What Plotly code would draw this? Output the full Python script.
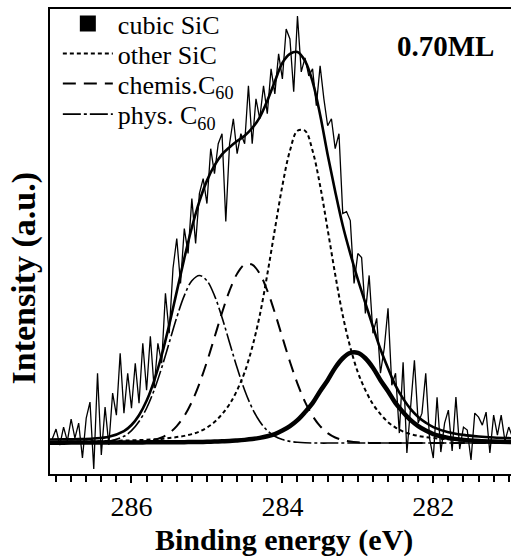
import plotly.graph_objects as go

# ---------------- data ----------------
# energy grid of the fitted components (eV)
fit_energy = [287.1, 286.9, 286.7, 286.5, 286.3, 286.1,
              286.0, 285.9, 285.8, 285.7, 285.6, 285.5, 285.4, 285.3, 285.2, 285.1,
              285.0, 284.9, 284.8, 284.7, 284.6, 284.5, 284.4, 284.3, 284.2, 284.1,
              284.0, 283.9, 283.8, 283.7, 283.6, 283.5, 283.4, 283.3, 283.2, 283.1,
              283.0, 282.9, 282.8, 282.7, 282.6, 282.5, 282.4, 282.3, 282.2, 282.1,
              282.0, 281.8, 281.6, 281.4, 281.2, 280.9]

phys_c60 = [0, 0, 0, 0.3, 1.7, 6.8,
            12.5, 21.6, 34.9, 53.0, 75.4, 100.6, 125.9, 147.8, 162.7, 168.0,
            162.7, 147.8, 125.9, 100.6, 75.4, 53.0, 34.9, 21.6, 12.5, 6.8,
            3.5, 1.7, 0.8, 0.3, 0.1, 0, 0, 0, 0, 0,
            0, 0, 0, 0, 0, 0, 0, 0, 0, 0,
            0, 0, 0, 0, 0, 0]

chemis_c60 = [0, 0, 0, 0, 0, 0.1,
              0.3, 0.7, 1.5, 3.0, 5.6, 10.0, 17.0, 27.2, 41.3, 59.6,
              81.5, 105.9, 130.6, 152.8, 169.7, 178.8, 178.8, 169.7, 152.8, 130.6,
              105.9, 81.5, 59.6, 41.3, 27.2, 17.0, 10.0, 5.6, 3.0, 1.5,
              0.7, 0.3, 0.1, 0, 0, 0, 0, 0, 0, 0,
              0, 0, 0, 0, 0, 0]

other_sic = [1.1, 1.3, 1.5, 1.8, 2.1, 2.5,
             2.7, 3.0, 3.3, 3.7, 4.2, 5.0, 6.0, 7.2, 9.0, 11.5,
             15.5, 21, 29, 39, 53, 71, 96, 128, 169, 214,
             258, 293, 313, 313, 293, 258, 214, 169, 128, 96,
             71, 53, 39, 29, 21, 15.5, 11.5, 9.0, 7.2, 6.0,
             5.0, 3.7, 3.0, 2.5, 2.1, 1.7]

cubic_sic = [0.4, 0.4, 0.5, 0.5, 0.5, 0.6,
             0.6, 0.6, 0.7, 0.7, 0.8, 0.8, 0.9, 0.9, 1.0, 1.1,
             1.3, 1.5, 1.8, 2.1, 2.6, 3.2, 4.0, 5.2, 6.8, 9.0,
             12.5, 17, 23, 31, 40, 52, 63, 75.5, 85, 90.3,
             90.3, 85, 75.5, 63, 52, 40, 31, 23, 17, 12.5,
             9.0, 5.2, 3.2, 2.1, 1.5, 1.0]

envelope = [3.5, 3.7, 4.0, 4.6, 6.3, 12.0,
            18.1, 27.9, 42.4, 62.4, 88.0, 118.4, 151.8, 185.1, 216.0, 242.2,
            263.0, 278.2, 289.3, 296.5, 302.7, 308.0, 315.7, 326.5, 343.1, 362.4,
            381.0, 390, 392, 383, 362.3, 329, 289, 252.1, 218, 189.8,
            164, 140.3, 116.6, 94, 75, 57.5, 44.5, 34, 26.2, 20.5,
            16, 10.9, 8.2, 6.6, 5.6, 4.7]

# measured spectrum
raw_energy = [287.05, 287.00, 286.95, 286.90, 286.85, 286.80, 286.75, 286.70, 286.65, 286.60,
              286.55, 286.50, 286.45, 286.40, 286.35, 286.30, 286.25, 286.20, 286.15, 286.10,
              286.05, 286.00, 285.95, 285.90, 285.85, 285.80, 285.75, 285.70, 285.65, 285.60,
              285.55, 285.50, 285.45, 285.40, 285.35, 285.30, 285.25, 285.20, 285.15, 285.10,
              285.05, 285.00, 284.95, 284.90, 284.85, 284.80, 284.75, 284.70, 284.65, 284.60,
              284.55, 284.50, 284.45, 284.40, 284.35, 284.30, 284.25, 284.20, 284.15, 284.10,
              284.05, 284.00, 283.95, 283.90, 283.85, 283.80, 283.75, 283.70, 283.65, 283.60,
              283.55, 283.50, 283.45, 283.40, 283.35, 283.30, 283.25, 283.20, 283.15, 283.10,
              283.05, 283.00, 282.95, 282.90, 282.85, 282.80, 282.75, 282.70, 282.65, 282.60,
              282.55, 282.50, 282.45, 282.40, 282.35, 282.30, 282.25, 282.20, 282.15, 282.10,
              282.05, 282.00, 281.95, 281.90, 281.85, 281.80, 281.75, 281.70, 281.65, 281.60,
              281.55, 281.50, 281.45, 281.40, 281.35, 281.30, 281.25, 281.20, 281.15, 281.10,
              281.05, 281.00, 280.95]
raw_intensity = [4, 14, -2, 16, 2, 24, 5, 20, -15, 25,
                 41, -26, 70, -12, 36, -2, 50, 28, 90, 30,
                 70, 35, 80, 40, 100, 53, 107, 55, 100, 80,
                 150, 110, 175, 205, 160, 215, 190, 245, 200, 250,
                 265, 240, 295, 270, 300, 310, 222, 300, 325, 290,
                 310, 300, 358, 300, 345, 325, 358, 330, 375, 350,
                 390, 365, 415, 405, 352, 428, 372, 386, 368, 375,
                 338, 378, 345, 318, 325, 295, 310, 230, 232, 223,
                 160, 190, 186, 130, 168, 110, 125, 70, 95, 135,
                 58, 70, 10, 81, -10, 40, 83, 20, 30, 70,
                 5, -15, 46, -9, 20, 33, -8, 46, -6, 16,
                 13, -17, 30, 26, 18, 31, -10, 28, 8, 28,
                 2, 16, 6]

x_ticks = [286, 284, 282]
x_tick_labels = ["286", "284", "282"]
legend_names = ["cubic SiC", "other SiC", "chemis.C<sub>60</sub>", "phys. C<sub>60</sub>"]
sample_label = "0.70ML"

# ---------------- figure ----------------
SERIF = "Liberation Serif"
fig = go.Figure()

fig.add_trace(go.Scatter(x=raw_energy, y=raw_intensity, mode="lines",
                         line=dict(color="black", width=1.3), showlegend=False,
                         hoverinfo="skip"))
fig.add_trace(go.Scatter(x=fit_energy, y=phys_c60, mode="lines", name=legend_names[3],
                         line=dict(color="black", width=1.6, dash="18px,3px,3px,3px",
                                   shape="spline", smoothing=1),
                         legend="legend4"))
fig.add_trace(go.Scatter(x=fit_energy, y=chemis_c60, mode="lines", name=legend_names[2],
                         line=dict(color="black", width=2, dash="13px,8px",
                                   shape="spline", smoothing=1),
                         legend="legend3"))
fig.add_trace(go.Scatter(x=fit_energy, y=other_sic, mode="lines", name=legend_names[1],
                         line=dict(color="black", width=2, dash="4px,3px",
                                   shape="spline", smoothing=1),
                         legend="legend2"))
fig.add_trace(go.Scatter(x=fit_energy, y=envelope, mode="lines",
                         line=dict(color="black", width=2.6, shape="spline", smoothing=1),
                         showlegend=False))
fig.add_trace(go.Scatter(x=fit_energy, y=cubic_sic, mode="lines", showlegend=False,
                         line=dict(color="black", width=4.5, shape="spline", smoothing=1)))
# legend entry for cubic SiC (square symbol)
fig.add_trace(go.Scatter(x=[None], y=[None], mode="markers", name=legend_names[0],
                         marker=dict(symbol="square", size=16, color="black"),
                         legend="legend"))

leg_common = dict(x=0.017, xanchor="left", yanchor="middle", bgcolor="rgba(0,0,0,0)",
                  borderwidth=0, itemwidth=50,
                  font=dict(family=SERIF, size=26, color="black"))
fig.update_layout(
    legend=dict(y=0.968, **leg_common),
    legend2=dict(y=0.902, **leg_common),
    legend3=dict(y=0.838, **leg_common),
    legend4=dict(y=0.772, **leg_common),
)

fig.update_xaxes(range=[287.08, 280.97], tickvals=x_ticks, ticktext=x_tick_labels,
                 ticks="outside", ticklen=7, tickwidth=1.5, tickcolor="black",
                 minor=dict(dtick=0.2, tick0=0, ticks="outside", ticklen=6,
                            tickwidth=1.5, tickcolor="black", showgrid=False),
                 showline=True, linecolor="black", linewidth=1.5, mirror=True,
                 showgrid=False, zeroline=False,
                 tickfont=dict(family=SERIF, size=28, color="black"))
fig.update_yaxes(range=[-31, 435], showticklabels=False, ticks="",
                 showline=True, linecolor="black", linewidth=1.5, mirror=False,
                 showgrid=False, zeroline=False)

fig.add_annotation(text="<b>" + sample_label + "</b>", xref="paper", yref="paper",
                   x=0.857, y=0.9206, xanchor="center", yanchor="middle", showarrow=False,
                   font=dict(family=SERIF, size=29, color="black"))
fig.add_annotation(text="<b>Binding energy (eV)</b>", xref="paper", yref="paper",
                   x=0.5076, y=-0.143, xanchor="center", yanchor="middle", showarrow=False,
                   font=dict(family=SERIF, size=30, color="black"))
fig.add_annotation(text="<b>Intensity (a.u.)</b>", xref="paper", yref="paper",
                   x=-0.0564, y=0.4227, xanchor="center", yanchor="middle", showarrow=False,
                   textangle=-90, font=dict(family=SERIF, size=34, color="black"))

fig.update_layout(width=511, height=556, margin=dict(l=50, r=0, t=8, b=82),
                  paper_bgcolor="white", plot_bgcolor="white", template="none")

fig.write_html("out.html", config={"displayModeBar": False},
               post_script="document.body.style.margin='0';"
                           "document.body.style.overflow='hidden';")
